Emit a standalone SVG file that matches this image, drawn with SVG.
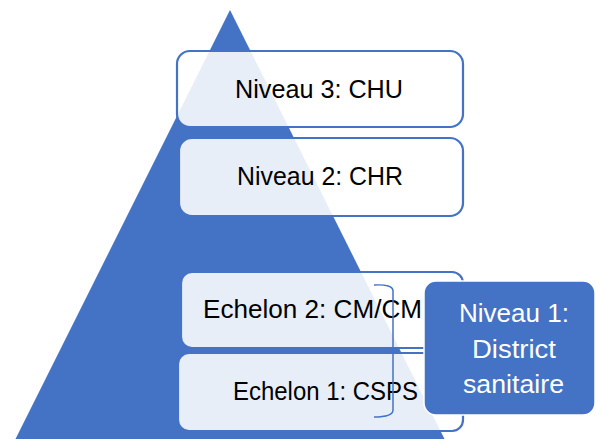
<svg xmlns="http://www.w3.org/2000/svg" width="596" height="439" viewBox="0 0 596 439">
  <style>
    .tier { fill: #ffffff; fill-opacity: 0.88; stroke: #4472C4; stroke-width: 2.2; }
    .label { font-family: "Liberation Sans", Arial, sans-serif; font-size: 25px; fill: #000000; }
    .district { fill: #4472C4; stroke: #ffffff; stroke-width: 1.5; }
    .district-label { font-family: "Liberation Sans", Arial, sans-serif; font-size: 26px; fill: #ffffff; }
    .bracket { fill: none; stroke: #4472C4; stroke-width: 1.5; }
  </style>

  <!-- background pyramid -->
  <g id="pyramid">
    <polygon points="230,10 0,470 460,470" fill="#4472C4"/>
  </g>

  <g id="niveau3">
    <rect class="tier" x="177" y="51" width="286" height="76" rx="13"/>
    <text class="label" x="235" y="98" textLength="168" lengthAdjust="spacingAndGlyphs">Niveau 3: CHU</text>
  </g>

  <g id="niveau2">
    <rect class="tier" x="179" y="138" width="284" height="78" rx="13"/>
    <text class="label" x="237" y="185" textLength="166" lengthAdjust="spacingAndGlyphs">Niveau 2: CHR</text>
  </g>

  <g id="echelon2">
    <rect class="tier" x="181" y="272" width="282" height="76" rx="11"/>
    <text class="label" x="203" y="318" textLength="219" lengthAdjust="spacingAndGlyphs">Echelon 2: CM/CM</text>
  </g>

  <g id="echelon1">
    <rect class="tier" x="178" y="353" width="285" height="78" rx="11"/>
    <text class="label" x="233" y="400" textLength="185" lengthAdjust="spacingAndGlyphs">Echelon 1: CSPS</text>
  </g>

  <!-- brace grouping the two echelons -->
  <g id="connectors">
    <path class="bracket" d="M374,285 Q393,284 393,291 L393,410 Q393,417 374,417"/>
  </g>

  <g id="niveau1">
    <rect class="district" x="424" y="281" width="171" height="134" rx="12"/>
    <text class="district-label" x="459" y="322" textLength="110" lengthAdjust="spacingAndGlyphs">Niveau 1:</text>
    <text class="district-label" x="472" y="358" textLength="84" lengthAdjust="spacingAndGlyphs">District</text>
    <text class="district-label" x="463" y="393" textLength="101" lengthAdjust="spacingAndGlyphs">sanitaire</text>
  </g>
</svg>
